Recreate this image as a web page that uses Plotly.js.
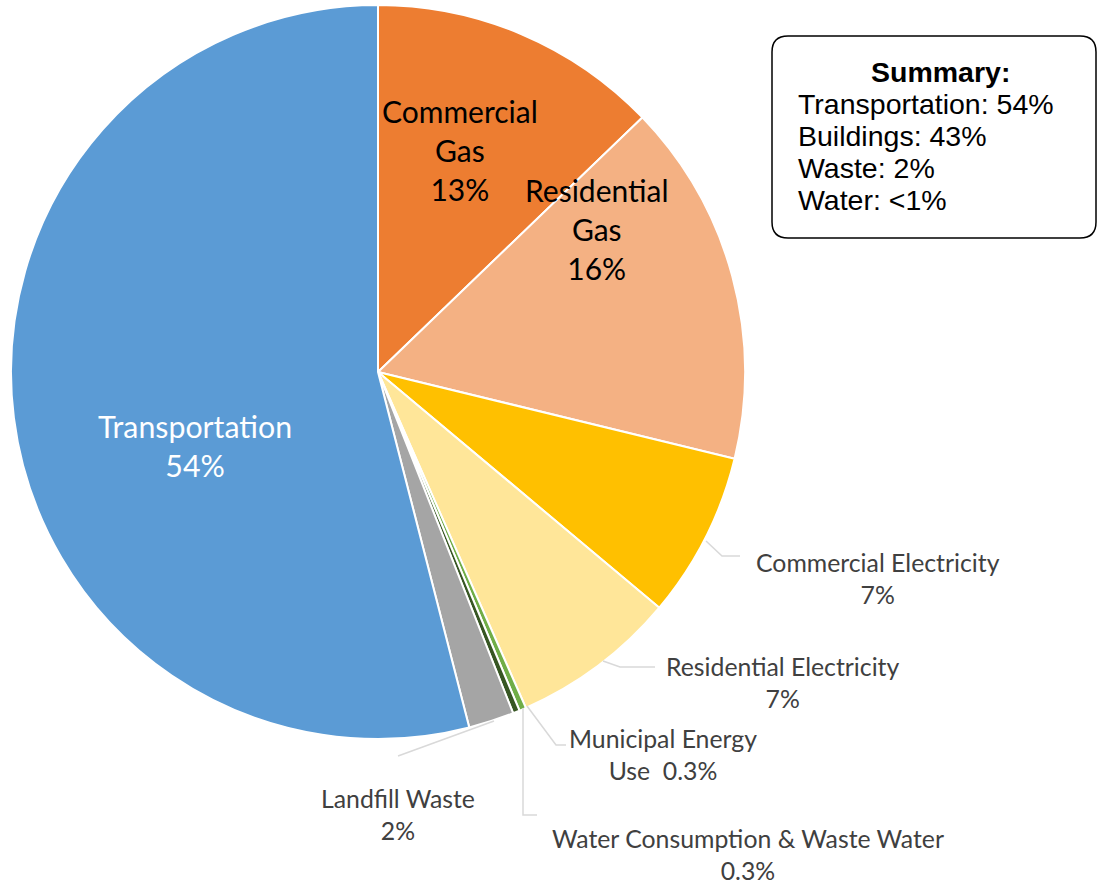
<!DOCTYPE html>
<html>
<head>
<meta charset="utf-8">
<script src="https://cdn.plot.ly/plotly-3.0.1.min.js"></script>
<style>html,body{margin:0;padding:0;background:#fff;}#chart{width:1099px;height:884px;}</style>
</head>
<body>
<div id="chart"></div>
<script>
// ---- data ----
const categories = ["Commercial Gas", "Residential Gas", "Commercial Electricity", "Residential Electricity",
  "Municipal Energy Use", "Water Consumption & Waste Water", "Landfill Waste", "Transportation"];
const values = [12.8, 16.0, 7.3, 7.3, 0.3, 0.3, 2.0, 54.0];
const sliceColors = ["#ED7D31", "#F4B183", "#FFC000", "#FFE699", "#70AD47", "#375623", "#A5A5A5", "#5B9BD5"];
const labelTexts = ["Commercial<br>Gas<br>13%", "Residential<br>Gas<br>16%", "Commercial Electricity<br>7%",
  "Residential Electricity<br>7%", "Municipal Energy<br>Use  0.3%", "Water Consumption & Waste Water<br>0.3%",
  "Landfill Waste<br>2%", "Transportation<br>54%"];
const summaryTitle = "Summary:";
const summaryLines = ["Transportation: 54%", "Buildings: 43%", "Waste: 2%", "Water: <1%"];

// ---- layout helpers (pixel -> paper) ----
const W = 1099, H = 884;
const px = x => x / W;
const py = y => 1 - y / H;

// label placement (pixel centres), font size, colour
const labelPos = [[460,150,30,"#000"],[597,229,30,"#000"],[878,578,24.8,"#404040"],[782,682,24.8,"#404040"],
  [663,754,24.8,"#404040"],[748,854,24.8,"#404040"],[398,814,24.8,"#404040"],[195,445,30.3,"#fff"]];
const annotations = labelTexts.map((t, i) => ({
  text: t, x: px(labelPos[i][0]), y: py(labelPos[i][1]), xref: "paper", yref: "paper",
  xanchor: "center", yanchor: "middle", showarrow: false, align: "center",
  font: {family: "Lato, 'Open Sans', sans-serif", size: labelPos[i][2], color: labelPos[i][3]}
}));
annotations.push({text: "<b>" + summaryTitle + "</b>", x: px(940), y: py(72), xref: "paper", yref: "paper",
  xanchor: "center", yanchor: "middle", showarrow: false,
  font: {family: "'Liberation Sans', Arial, sans-serif", size: 28.5, color: "#000"}});
summaryLines.forEach((t, i) => annotations.push({text: t, x: px(796), y: py(104 + 32 * i), xref: "paper", yref: "paper",
  xanchor: "left", yanchor: "middle", showarrow: false,
  font: {family: "'Liberation Sans', Arial, sans-serif", size: 28.5, color: "#000"}}));

// leader lines (pixel polylines)
const leaders = [
  [[706,541],[722,556],[740,556]],
  [[603,661],[620,667],[655,667]],
  [[527,706],[556,745],[566,745]],
  [[523,708],[523,815],[537,815]],
  [[494,721],[398,756]]
];
const pathOf = pts => pts.map((p, i) => (i ? "L" : "M") + px(p[0]) + "," + py(p[1])).join(" ");
const shapes = leaders.map(pts => ({type: "path", xref: "paper", yref: "paper", path: pathOf(pts),
  line: {color: "#D9D9D9", width: 1.5}}));

// rounded summary box
const bx0 = 772, bx1 = 1096, by0 = 36, by1 = 238, r = 16;
const P = (x, y) => px(x) + "," + py(y);
shapes.push({type: "path", xref: "paper", yref: "paper", line: {color: "#000", width: 1.5},
  path: "M" + P(bx0 + r, by0) + " L" + P(bx1 - r, by0) + " Q" + P(bx1, by0) + " " + P(bx1, by0 + r) +
    " L" + P(bx1, by1 - r) + " Q" + P(bx1, by1) + " " + P(bx1 - r, by1) +
    " L" + P(bx0 + r, by1) + " Q" + P(bx0, by1) + " " + P(bx0, by1 - r) +
    " L" + P(bx0, by0 + r) + " Q" + P(bx0, by0) + " " + P(bx0 + r, by0) + " Z"});

const cx = 378, cy = 372, R = 367;
const trace = {
  type: "pie", labels: categories, values: values, sort: false, direction: "clockwise", rotation: 0,
  marker: {colors: sliceColors, line: {color: "#fff", width: 2}},
  textinfo: "none", hoverinfo: "label+percent", showlegend: false,
  domain: {x: [px(cx - R), px(cx + R)], y: [py(cy + R), py(cy - R)]}
};

Plotly.newPlot("chart", [trace], {
  width: W, height: H, margin: {l: 0, r: 0, t: 0, b: 0},
  paper_bgcolor: "#fff", plot_bgcolor: "#fff", showlegend: false,
  annotations: annotations, shapes: shapes
}, {displayModeBar: false, staticPlot: true});
</script>
</body>
</html>
